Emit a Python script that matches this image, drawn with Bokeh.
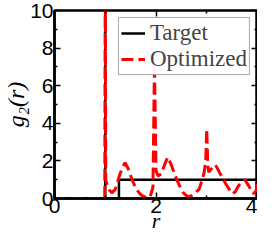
from bokeh.plotting import figure
from bokeh.models import Legend, LegendItem, LinearAxis, FixedTicker, CustomJSTickFormatter
from bokeh.embed import file_html
from bokeh.resources import INLINE

# Target g2(r)
r_target = [0.0, 1.0, 1.0, 1.0, 1.27, 1.27, 4.0]
g_target = [0.0, 0.0, 12.0, 0.0, 0.0, 1.0, 1.0]

# Optimized g2(r)
r_opt = [0.0, 0.99, 1.0, 1.01, 1.04, 1.08, 1.13, 1.2, 1.29, 1.35, 1.39, 1.45,
         1.53, 1.61, 1.7, 1.8, 1.88, 1.94, 1.97, 2.0, 2.04, 2.1, 2.17, 2.23,
         2.3, 2.38, 2.46, 2.54, 2.62, 2.7, 2.78, 2.85, 2.91, 2.95, 2.98, 3.0,
         3.02, 3.04, 3.1, 3.17, 3.25, 3.37, 3.5, 3.56, 3.62, 3.68, 3.75, 3.82,
         3.92, 3.97, 4.0]
g_opt = [0.0, 0.0, 12.0, 1.0, 0.7, 0.45, 0.3, 0.5, 1.3, 1.7, 1.9, 1.6,
         1.0, 0.5, 0.2, 0.05, 0.05, 0.6, 7.2, 1.5, 1.2, 1.3, 1.8, 2.2,
         1.8, 1.2, 0.7, 0.3, 0.1, 0.15, 0.3, 0.5, 1.0, 1.4, 2.0, 3.7,
         1.8, 1.4, 1.6, 1.8, 1.4, 0.8, 0.25, 0.35, 0.65, 0.85, 1.0, 0.7,
         0.25, 0.4, 0.8]

x_ticks = [0, 2, 4]
x_minor = [1, 3]
y_ticks = [0, 2, 4, 6, 8, 10]
y_minor = [1, 3, 5, 7, 9]

p = figure(width=257, height=235, x_range=(0, 4), y_range=(0, 10),
           output_backend="svg", toolbar_location=None,
           min_border_left=50, min_border_right=0, min_border_top=10,
           min_border_bottom=0)
p.grid.visible = False
p.outline_line_color = "black"
p.outline_line_width = 2.5
p.background_fill_color = "white"
p.border_fill_color = "white"

tl = p.line(r_target, g_target, line_color="black", line_width=2.5)
ol = p.line(r_opt, g_opt, line_color="red", line_width=3, line_dash="12 5")

for ax in (p.xaxis[0], p.yaxis[0]):
    ax.axis_line_width = 2.5
    ax.major_tick_in = 6
    ax.major_tick_out = 0
    ax.minor_tick_in = 3
    ax.minor_tick_out = 0
    ax.major_tick_line_width = 1.5
    ax.minor_tick_line_width = 1.5
    ax.major_label_text_font = "Liberation Sans"
    ax.major_label_text_font_size = "21px"
    ax.major_label_text_color = "black"
    ax.major_label_standoff = 1
    ax.axis_label_text_font = "Liberation Serif"
    ax.axis_label_text_font_style = "italic"
    ax.axis_label_text_color = "black"

p.xaxis[0].ticker = FixedTicker(ticks=x_ticks, minor_ticks=x_minor)
p.yaxis[0].ticker = FixedTicker(ticks=y_ticks, minor_ticks=y_minor)
p.xaxis[0].axis_label = "r"
p.xaxis[0].axis_label_text_font_size = "22px"
p.xaxis[0].axis_label_standoff = -8
p.xaxis[0].major_label_standoff = 0
p.yaxis[0].axis_label = "g\u2082(r)"
p.yaxis[0].axis_label_text_font_size = "24px"
p.yaxis[0].axis_label_standoff = -2

blank = CustomJSTickFormatter(code="return '';")
top = LinearAxis(ticker=FixedTicker(ticks=x_ticks, minor_ticks=x_minor),
                 formatter=blank, major_label_text_font_size="8px",
                 major_tick_in=6, major_tick_out=0,
                 minor_tick_in=3, minor_tick_out=0, major_label_standoff=0,
                 major_tick_line_width=1.5, minor_tick_line_width=1.5, axis_line_color=None)
right = LinearAxis(ticker=FixedTicker(ticks=y_ticks, minor_ticks=y_minor),
                   formatter=blank, major_label_text_font_size="8px",
                   major_tick_in=6, major_tick_out=0,
                   minor_tick_in=3, minor_tick_out=0, major_label_standoff=0,
                   major_tick_line_width=1.5, minor_tick_line_width=1.5, axis_line_color=None)
p.add_layout(top, "above")
p.add_layout(right, "right")

legend = Legend(items=[LegendItem(label="Target", renderers=[tl]),
                       LegendItem(label="Optimized", renderers=[ol])],
                location="top_right")
legend.label_text_font = "Liberation Serif"
legend.label_text_font_size = "23px"
legend.border_line_color = "#555555"
legend.border_line_width = 1
legend.glyph_width = 24
legend.label_standoff = 5
legend.padding = 2
legend.spacing = 0
legend.margin = 7
legend.label_height = 24
legend.glyph_height = 24
p.add_layout(legend)

open("out.html", "w").write(file_html(p, INLINE))
